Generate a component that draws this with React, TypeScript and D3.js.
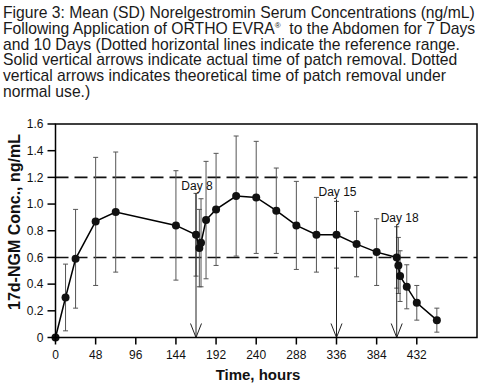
import React from "react";
import * as d3 from "d3";

const hours = [0, 12, 24, 48, 72, 144, 168, 172, 174, 180, 192, 216, 240, 264, 288, 312, 336, 360, 384, 408, 410, 412, 420, 432, 456];
const meanConc = [0, 0.3, 0.59, 0.87, 0.94, 0.84, 0.77, 0.67, 0.71, 0.88, 0.96, 1.06, 1.05, 0.95, 0.84, 0.77, 0.77, 0.7, 0.64, 0.6, 0.54, 0.46, 0.38, 0.26, 0.13];
const sdConc = [0, 0.25, 0.37, 0.48, 0.45, 0.41, 0.31, 0.29, 0.33, 0.44, 0.42, 0.45, 0.42, 0.32, 0.33, 0.28, 0.25, 0.245, 0.25, 0.23, 0.21, 0.19, 0.165, 0.13, 0.09];

const xTicks = [0, 48, 96, 144, 192, 240, 288, 336, 384, 432];
const yTicks = [0, 0.2, 0.4, 0.6, 0.8, 1.0, 1.2, 1.4, 1.6];
const refRange = [0.6, 1.2];

const removalTimes = [168, 336, 408];
const removalLabels = ["Day 8", "Day 15", "Day 18"];
const removalLabelLevel = [1.105, 1.057, 0.866];

const titleLines = [
  "Figure 3: Mean (SD) Norelgestromin Serum Concentrations (ng/mL)",
  "Following Application of ORTHO EVRA",
  "and 10 Days (Dotted horizontal lines indicate the reference range.",
  "Solid vertical arrows indicate actual time of patch removal. Dotted",
  "vertical arrows indicates theoretical time of patch removal under",
  "normal use.)",
];
const titleSecondTail = "\u00a0 to the Abdomen for 7 Days";

export default function App() {
  const W = 480;
  const H = 384;
  const left = 55.5;
  const right = 477;
  const top = 124;
  const bottom = 337.5;

  const x = d3.scaleLinear().domain([0, 504]).range([left, right]);
  const y = d3.scaleLinear().domain([0, 1.6]).range([bottom, top]);

  const line = d3
    .line<number>()
    .x((_, i) => x(hours[i]))
    .y((d) => y(d));

  const font = "'Liberation Sans', Arial, Helvetica, sans-serif";

  return (
    <svg
      width={W}
      height={H}
      style={{ position: "absolute", left: 0, top: 0, background: "#fff" }}
      fontFamily={font}
    >
      <rect x={0} y={0} width={W} height={H} fill="#fff" />
      {/* Title */}
      <g fill="#1a1a1a" fontSize={15.7}>
        {titleLines.map((t, i) => (
          <text key={i} x={3} y={18 + i * 15.8}>
            {i === 1 ? (
              <>
                {t}
                <tspan fontSize={8} dy={-6}>®</tspan>
                <tspan dy={6}>{titleSecondTail}</tspan>
              </>
            ) : (
              t
            )}
          </text>
        ))}
      </g>

      {/* Reference range dashed lines */}
      {refRange.map((v) => (
        <line
          key={v}
          x1={left}
          x2={right}
          y1={y(v)}
          y2={y(v)}
          stroke="#111"
          strokeWidth={1.6}
          strokeDasharray="13,6"
        />
      ))}

      {/* Error bars */}
      <g stroke="#555" strokeWidth={1}>
        {hours.map((h, i) =>
          sdConc[i] > 0 ? (
            <g key={i}>
              <line x1={x(h)} x2={x(h)} y1={y(meanConc[i] + sdConc[i])} y2={y(meanConc[i] - sdConc[i])} />
              <line x1={x(h) - 2.5} x2={x(h) + 2.5} y1={y(meanConc[i] + sdConc[i])} y2={y(meanConc[i] + sdConc[i])} />
              <line x1={x(h) - 2.5} x2={x(h) + 2.5} y1={y(meanConc[i] - sdConc[i])} y2={y(meanConc[i] - sdConc[i])} />
            </g>
          ) : null
        )}
      </g>

      {/* Removal arrows */}
      <g stroke="#222" strokeWidth={1} fill="none">
        {removalTimes.map((t, i) => (
          <g key={t}>
            <line x1={x(t)} x2={x(t)} y1={y(removalLabelLevel[i]) + 3} y2={bottom} />
            <polyline
              points={`${x(t) - 5.5},${bottom - 14} ${x(t)},${bottom} ${x(t) + 5.5},${bottom - 14}`}
            />
          </g>
        ))}
      </g>
      <g fontSize={12} fill="#111" textAnchor="middle">
        {removalTimes.map((t, i) => (
          <text key={t} x={x(t) + (i === 2 ? 3 : 1)} y={y(removalLabelLevel[i])}>
            {removalLabels[i]}
          </text>
        ))}
      </g>

      {/* Mean line and markers */}
      <path d={line(meanConc) || ""} fill="none" stroke="#000" strokeWidth={1.5} />
      <g fill="#111">
        {hours.map((h, i) => (
          <circle key={i} cx={x(h)} cy={y(meanConc[i])} r={4} />
        ))}
      </g>

      {/* Frame */}
      <rect x={left} y={top} width={right - left} height={bottom - top} fill="none" stroke="#000" strokeWidth={1.5} />

      {/* Axis ticks */}
      <g stroke="#000" strokeWidth={1.5}>
        {xTicks.map((t) => (
          <line key={t} x1={x(t)} x2={x(t)} y1={bottom} y2={bottom + 7} />
        ))}
        {yTicks.map((t) => (
          <line key={t} x1={left - 8} x2={left} y1={y(t)} y2={y(t)} />
        ))}
      </g>
      <g fontSize={12} fill="#111" textAnchor="middle">
        {xTicks.map((t) => (
          <text key={t} x={x(t)} y={359}>
            {t}
          </text>
        ))}
      </g>
      <g fontSize={12} fill="#111" textAnchor="end">
        {yTicks.map((t) => (
          <text key={t} x={left - 12} y={y(t) + 4.2}>
            {t === 0 ? "0" : d3.format(".1f")(t)}
          </text>
        ))}
      </g>

      {/* Axis titles */}
      <text x={258} y={380} fontSize={15} fontWeight="bold" textAnchor="middle" fill="#111">
        Time, hours
      </text>
      <text
        transform={`translate(20,222) rotate(-90)`}
        fontSize={16}
        fontWeight="bold"
        textAnchor="middle"
        fill="#111"
      >
        17d-NGM Conc., ng/mL
      </text>
    </svg>
  );
}
